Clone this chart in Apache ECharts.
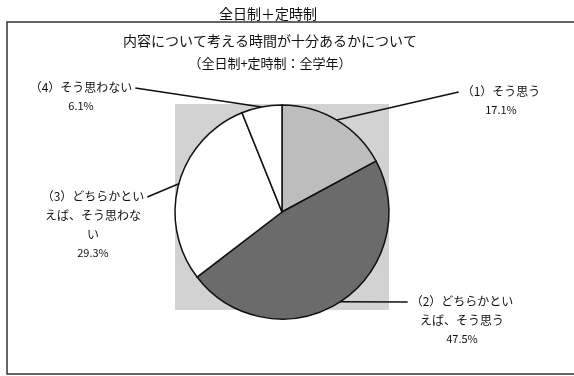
<!DOCTYPE html>
<html><head><meta charset="utf-8">
<script src="https://cdn.jsdelivr.net/npm/echarts@6/dist/echarts.min.js"></script>
<style>html,body{margin:0;padding:0;background:#fff}#c{width:574px;height:376px}</style>
</head><body><div id="c"></div>
<script>
const categories = ['（1）そう思う', '（2）どちらかとい\nえば、そう思う', '（3）どちらかとい\nえば、そう思わな\nい', '（4）そう思わない'];
const values = [17.1, 47.5, 29.3, 6.1];
const sliceColors = ['#bdbdbd', '#6b6b6b', '#ffffff', '#ffffff'];
// label block: [center x, center y of first line, side of pie ('r' or 'l')]
const labelAnchors = [[501, 91, 'r'], [462, 301, 'r'], [93, 196, 'l'], [81, 87, 'l']];
const LH = 19;
const FONT = '"Noto Sans CJK JP", "Noto Sans", sans-serif';
const INK = '#111111';

const chart = echarts.init(document.getElementById('c'), null, {renderer: 'canvas'});
chart.setOption({
  backgroundColor: '#ffffff',
  animation: false,
  title: [
    {text: '全日制＋定時制', left: 263, top: 2, textAlign: 'center',
     textStyle: {fontFamily: FONT, fontSize: 14, fontWeight: 'normal', color: INK}},
    {text: '内容について考える時間が十分あるかについて', subtext: '（全日制+定時制：全学年）',
     left: 265, top: 29, textAlign: 'center', itemGap: 9,
     textStyle: {fontFamily: FONT, fontSize: 14, fontWeight: 'normal', color: INK},
     subtextStyle: {fontFamily: FONT, fontSize: 13, color: INK}}
  ],
  graphic: [
    {type: 'rect', z: -10, shape: {x: 7, y: 22, width: 600, height: 352},
     style: {fill: 'none', stroke: '#333333', lineWidth: 1.5}},
    {type: 'rect', z: -10, shape: {x: 175, y: 104, width: 214, height: 206},
     style: {fill: '#d2d2d2'}}
  ],
  series: [{
    type: 'pie',
    center: [282, 212],
    radius: 107,
    startAngle: 90,
    clockwise: true,
    avoidLabelOverlap: false,
    data: categories.map((n, i) => ({name: n, value: values[i], itemStyle: {color: sliceColors[i]}})),
    itemStyle: {borderColor: '#111111', borderWidth: 1.5},
    emphasis: {disabled: true},
    label: {
      show: true,
      position: 'outside',
      formatter: p => p.name.split('\n').map(s => '{n|' + s + '}').join('\n') + '\n{p|' + p.value.toFixed(1) + '%}',
      rich: {
        n: {fontFamily: FONT, fontSize: 12, lineHeight: LH, color: INK, align: 'center'},
        p: {fontFamily: FONT, fontSize: 11, lineHeight: LH, color: INK, align: 'center'}
      }
    },
    labelLine: {show: true, length: 10, length2: 10, lineStyle: {color: '#111111', width: 1.5}},
    labelLayout: function (params) {
      const a = labelAnchors[params.dataIndex];
      const w = params.labelRect.width;
      const p0 = params.labelLinePoints ? params.labelLinePoints[0] : [0, 0];
      const endX = a[2] === 'r' ? a[0] - w / 2 - 3 : a[0] + w / 2 + 3;
      const end = [endX, a[1] + 1];
      return {
        x: a[0], y: a[1] - LH / 2, align: 'center', verticalAlign: 'top',
        labelLinePoints: [p0, p0, end]
      };
    }
  }]
});
</script>
</body></html>
